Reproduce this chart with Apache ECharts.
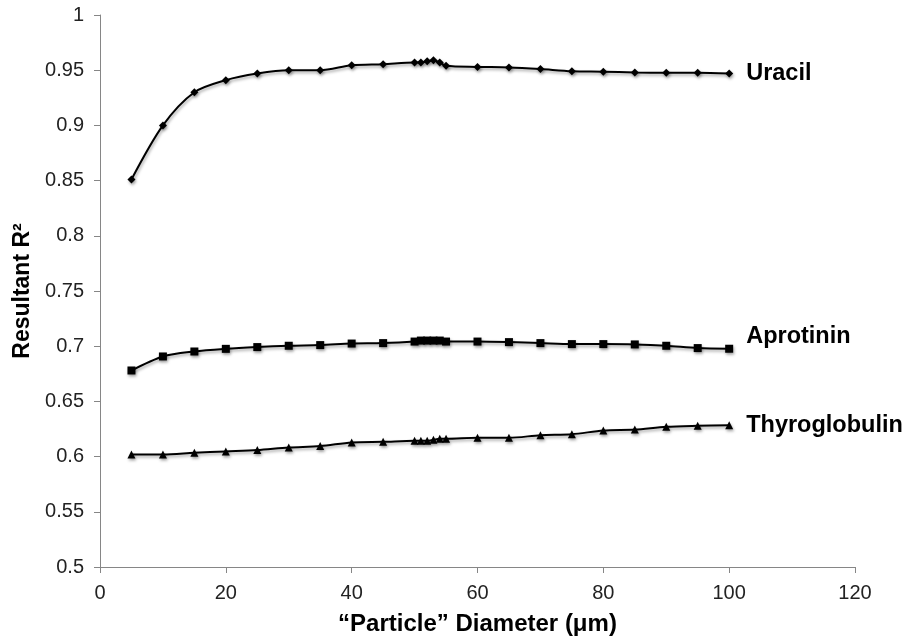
<!DOCTYPE html>
<html>
<head>
<meta charset="utf-8">
<script src="https://cdn.jsdelivr.net/npm/echarts@6/dist/echarts.min.js"></script>
<style>html,body{margin:0;padding:0;background:#fff}#c{width:912px;height:641px}</style>
</head>
<body>
<div id="c"></div>
<script>
const diameters = [5,10,15,20,25,30,35,40,45,50,51,52,53,54,55,60,65,70,75,80,85,90,95,100];
const uracil = [0.851,0.900,0.930,0.941,0.947,0.950,0.950,0.9545,0.9555,0.957,0.957,0.958,0.959,0.957,0.954,0.953,0.9525,0.951,0.949,0.9487,0.948,0.9477,0.9477,0.947];
const aprotinin = [0.678,0.6907,0.6952,0.6976,0.6992,0.7004,0.701,0.7024,0.7028,0.7042,0.7051,0.7051,0.7051,0.7051,0.7042,0.7042,0.7037,0.7028,0.7019,0.7019,0.7016,0.7004,0.6983,0.6977];
const thyroglobulin = [0.602,0.602,0.6035,0.6047,0.6059,0.6083,0.6095,0.6128,0.6134,0.6143,0.6143,0.6143,0.6152,0.6161,0.6161,0.617,0.617,0.6194,0.6203,0.6236,0.6245,0.627,0.6279,0.6284];
const seriesNames = ['Uracil','Aprotinin','Thyroglobulin'];
const xTitle = '\u201cParticle\u201d Diameter (\u03bcm)';
const yTitle = 'Resultant R\u00b2';

const FONT = "'Liberation Sans', Arial, sans-serif";
function pairs(vals){ return diameters.map((d,i)=>[d, vals[i]]); }
function mkSeries(name, vals, symbol, size, offset){
  return {
    name: name, type: 'line', data: pairs(vals),
    smooth: 0.3,
    symbol: symbol, symbolSize: size, showAllSymbol: true,
    itemStyle: {color: '#000', shadowColor: 'rgba(0,0,0,0.35)', shadowBlur: 3, shadowOffsetX: 1, shadowOffsetY: 2},
    lineStyle: {color: '#000', width: 2, shadowColor: 'rgba(0,0,0,0.35)', shadowBlur: 3, shadowOffsetX: 1, shadowOffsetY: 2},
    endLabel: {show: true, formatter: '{a}', distance: 17, offset: offset,
      fontFamily: FONT, fontWeight: 'bold', fontSize: 23.5, color: '#000'},
    emphasis: {disabled: true},
    animation: false
  };
}
const chart = echarts.init(document.getElementById('c'), null, {renderer: 'canvas'});
chart.setOption({
  animation: false,
  backgroundColor: '#fff',
  grid: {left: 100, right: 57, top: 15, bottom: 72},
  xAxis: {
    type: 'value', min: 0, max: 120, interval: 20,
    name: xTitle, nameLocation: 'middle', nameGap: 45,
    nameTextStyle: {fontFamily: FONT, fontWeight: 'bold', fontSize: 24, color: '#000'},
    axisLine: {show: true, lineStyle: {color: '#868686', width: 1}},
    axisTick: {show: true, inside: false, length: 6, lineStyle: {color: '#868686'}},
    axisLabel: {fontFamily: FONT, fontSize: 20, color: '#222', margin: 16},
    splitLine: {show: false}
  },
  yAxis: {
    type: 'value', min: 0.5, max: 1, interval: 0.05,
    name: yTitle, nameLocation: 'middle', nameGap: 66, nameRotate: 90,
    nameTextStyle: {fontFamily: FONT, fontWeight: 'bold', fontSize: 23, color: '#000'},
    axisLine: {show: true, lineStyle: {color: '#868686', width: 1}},
    axisTick: {show: true, inside: false, length: 6, lineStyle: {color: '#868686'}},
    axisLabel: {fontFamily: FONT, fontSize: 20, color: '#222', margin: 16,
      formatter: v => String(Math.round(v*100)/100)},
    splitLine: {show: false}
  },
  series: [
    mkSeries(seriesNames[0], uracil, 'diamond', 8, [0, 0]),
    mkSeries(seriesNames[1], aprotinin, 'rect', 8, [0, -12]),
    mkSeries(seriesNames[2], thyroglobulin, 'triangle', 8, [0, 0])
  ]
});
</script>
</body>
</html>
